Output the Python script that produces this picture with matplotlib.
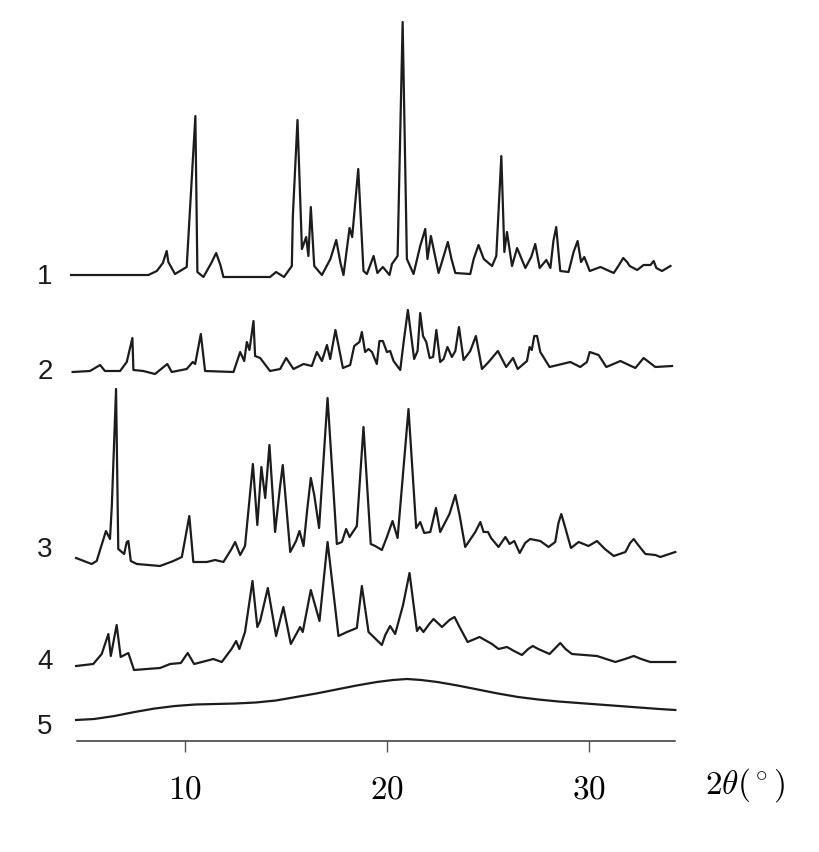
import matplotlib
matplotlib.use("Agg")
import matplotlib.pyplot as plt

plt.rcParams['mathtext.fontset'] = 'cm'

# 2theta (deg) / intensity (arb.) pairs, one set per sample
x1 = [4.35, 8.18, 8.6, 8.9, 9.09, 9.17, 9.5, 10.08, 10.51, 10.61, 10.91, 11.3, 11.54, 11.75, 11.9,
      14.21, 14.51, 14.9, 15.29, 15.34, 15.57, 15.79, 16.0, 16.11, 16.23, 16.4, 16.78, 17.2,
      17.49, 17.7, 17.85, 18.15, 18.28, 18.58, 18.84, 19.01, 19.34, 19.53, 19.8, 20.13, 20.25,
      20.53, 20.78, 20.99, 21.32, 21.65, 21.9, 22.01, 22.18, 22.56, 22.8, 23.02, 23.2, 23.39,
      24.13, 24.3, 24.54, 24.8, 25.21, 25.42, 25.67, 25.82, 25.95, 26.2, 26.45, 26.86, 27.15,
      27.35, 27.57, 27.9, 28.1, 28.25, 28.39, 28.5, 28.59, 29.0, 29.25, 29.45, 29.62, 29.78,
      30.05, 30.58, 31.24, 31.5, 31.71, 31.9, 32.03, 32.4, 32.72, 33.06, 33.22, 33.35, 33.63, 34.05]
y1 = [2, 2, 6, 14, 26, 15, 3, 10, 161, 5, 0, 14, 24, 12, 0,
      0, 5, 0, 11, 61, 157, 28, 40, 21, 70, 11, 2, 18,
      37, 14, 2, 49, 40, 108, 6, 3, 21, 4, 10, 2, 13,
      21, 255, 18, 3, 31, 48, 18, 41, 4, 20, 35, 18, 4,
      3, 18, 32, 18, 11, 21, 121, 25, 45, 11, 29, 9, 20,
      33, 9, 17, 9, 36, 50, 25, 6, 5, 25, 36, 15, 20,
      6, 10, 4, 12, 19, 15, 11, 7, 12, 12, 16, 9, 6, 11]

x2 = [4.43, 5.29, 5.79, 6.03, 6.78, 7.11, 7.39, 7.44, 7.93, 8.51, 9.12, 9.34, 10.08, 10.38, 10.5,
      10.78, 10.99, 12.4, 12.73, 12.93, 13.06, 13.19, 13.39, 13.47, 13.72, 14.21, 14.71, 15.01,
      15.37, 15.87, 16.28, 16.53, 16.78, 17.03, 17.19, 17.45, 17.82, 18.18, 18.38, 18.64, 18.76,
      18.92, 19.09, 19.26, 19.5, 19.63, 19.8, 20.0, 20.16, 20.33, 20.66, 20.83, 21.04, 21.35,
      21.52, 21.65, 21.79, 21.95, 22.12, 22.29, 22.45, 22.64, 22.81, 23.0, 23.22, 23.39, 23.57,
      23.8, 24.13, 24.41, 24.71, 25.04, 25.5, 25.91, 26.25, 26.48, 26.94, 27.07, 27.18, 27.3,
      27.44, 27.6, 28.06, 29.09, 29.58, 29.91, 30.05, 30.49, 30.87, 31.57, 32.31, 32.72, 33.3, 34.13]
y2 = [-1, 0, 6, 0, 0, 9, 33, 1, 0, -3, 7, -1, 2, 9, 7,
      37, 0, -1, 19, 10, 29, 21, 50, 15, 13, 0, 2, 13,
      2, 7, 5, 19, 10, 26, 12, 41, 3, 6, 25, 29, 39,
      19, 22, 19, 7, 30, 30, 19, 20, 10, 1, 29, 61, 12,
      20, 58, 35, 29, 13, 14, 41, 9, 12, 24, 14, 20, 44,
      11, 20, 35, 2, 9, 20, 4, 13, 2, 10, 24, 21, 35,
      35, 19, 4, 9, 4, 9, 19, 16, 4, 10, 3, 13, 4, 5]

x3 = [4.6, 5.37, 5.62, 6.08, 6.28, 6.37, 6.58, 6.69, 6.98, 7.11, 7.19, 7.31, 7.61, 8.76, 9.42,
      9.84, 10.21, 10.41, 11.08, 11.49, 11.9, 12.3, 12.48, 12.73, 12.97, 13.36, 13.58, 13.78,
      13.97, 14.18, 14.46, 14.71, 14.84, 15.21, 15.5, 15.67, 15.87, 16.05, 16.23, 16.4, 16.64,
      17.06, 17.52, 17.77, 17.98, 18.15, 18.51, 18.84, 19.2, 19.42, 19.75, 20.0, 20.28, 20.53,
      21.07, 21.45, 21.65, 21.85, 22.15, 22.43, 22.64, 23.1, 23.39, 23.6, 23.88, 24.38, 24.63,
      24.79, 25.01, 25.16, 25.53, 25.87, 26.08, 26.31, 26.58, 26.85, 27.1, 27.6, 28.01, 28.34,
      28.5, 28.64, 28.8, 29.12, 29.5, 29.99, 30.41, 30.8, 31.24, 31.82, 32.05, 32.23, 32.45,
      32.81, 33.3, 33.55, 34.29]
y3 = [7, 1, 4, 34, 26, 59, 176, 16, 11, 23, 24, 4, 1, -1, 4,
      8, 49, 3, 3, 5, 3, 16, 23, 10, 19, 101, 40, 98,
      67, 120, 33, 79, 100, 13, 24, 34, 19, 55, 87, 70, 37,
      167, 21, 23, 36, 28, 39, 138, 21, 19, 15, 28, 44, 27,
      156, 37, 43, 32, 33, 57, 33, 51, 70, 50, 18, 33, 43,
      33, 33, 27, 18, 28, 21, 24, 12, 22, 26, 24, 18, 23,
      42, 51, 40, 17, 23, 19, 24, 16, 9, 13, 22, 26, 20,
      11, 10, 8, 13]

x4 = [4.6, 5.45, 5.87, 6.2, 6.32, 6.61, 6.81, 7.19, 7.47, 8.1, 8.76, 9.26, 9.79, 10.13, 10.45,
      11.4, 11.82, 12.3, 12.53, 12.69, 12.97, 13.34, 13.58, 13.72, 14.1, 14.51, 14.87, 15.24,
      15.7, 15.83, 16.23, 16.66, 17.06, 17.6, 18.02, 18.51, 18.76, 19.09, 19.75, 19.92, 20.16,
      20.41, 20.8, 21.12, 21.49, 21.62, 21.81, 22.1, 22.31, 22.73, 23.1, 23.35, 23.6, 24.0,
      24.59, 25.21, 25.53, 25.95, 26.3, 26.69, 27.0, 27.23, 27.5, 28.06, 28.35, 28.59, 28.85,
      29.17, 30.41, 31.32, 31.8, 32.23, 32.6, 33.05, 34.29]
y4 = [1, 3, 13, 33, 11, 42, 10, 14, -3, -2, -1, 3, 4, 14, 3,
      8, 5, 18, 26, 18, 35, 86, 40, 46, 79, 31, 60, 23,
      40, 35, 77, 46, 125, 31, 35, 39, 81, 35, 22, 32, 41,
      33, 62, 94, 36, 40, 35, 43, 48, 40, 47, 50, 40, 25,
      30, 23, 18, 20, 16, 12, 18, 21, 18, 13, 19, 24, 18,
      13, 11, 5, 8, 11, 8, 5, 5]

x5 = [4.6, 5.5, 6.5, 7.5, 8.5, 9.5, 10.5, 11.5, 12.5, 13.5, 14.5, 15.5, 16.5, 17.5, 18.5, 19.5,
      20.3, 21.0, 21.7, 22.5, 23.5, 24.5, 25.5, 26.5, 27.5, 28.5, 29.5, 30.5, 31.5, 32.5, 33.5,
      34.29]
y5 = [1, 2, 5, 9, 12.5, 15, 16.5, 17, 17.5, 18.5, 20.5, 24, 27.5, 31.5, 35.5, 39,
      41, 42, 41, 39, 35.5, 31.5, 27.5, 24, 21.5, 19.5, 18, 16.5, 15, 13.5, 12,
      11]

offsets = [463.7, 369.7, 175.7, 73.7, 19.7]
names = ['1', '2', '3', '4', '5']
xticks = [10, 20, 30]

W, H = 819, 853
fig = plt.figure(figsize=(W / 100, H / 100), dpi=100)
ax = fig.add_axes([77.3 / W, 1 - 741.7 / H, (674.5 - 77.3) / W, 741.7 / H])

series = [(x1, y1), (x2, y2), (x3, y3), (x4, y4), (x5, y5)]
for (xs, ys), off in zip(series, offsets):
    ax.plot(xs, [v + off for v in ys], color='#1c1c1c', lw=1.6,
            solid_joinstyle='round', clip_on=False)

ax.set_xlim(4.66, 34.25)
ax.set_ylim(0, 741.7)
for s in ['top', 'right', 'left']:
    ax.spines[s].set_visible(False)
ax.spines['bottom'].set_color('#333333')
ax.spines['bottom'].set_linewidth(1.1)
ax.set_yticks([])
ax.set_xticks(xticks)
ax.set_xticklabels(['$%d$' % t for t in xticks], fontsize=24)
ax.tick_params(axis='x', direction='out', length=8, width=1, color='#555555', pad=14)

# sample numbers on the left
label_y = [276.7, 371.7, 550, 661.7, 726.7]
for name, yy in zip(names, label_y):
    fig.text(45 / W, 1 - yy / H, name, ha='center', va='center',
             fontsize=20, family='Liberation Sans', color='#1c1c1c')

fig.text(745 / W, 1 - 785 / H, r'$2\theta(^\circ)$', ha='center', va='center', fontsize=24)

fig.savefig('out.png', dpi=100)
